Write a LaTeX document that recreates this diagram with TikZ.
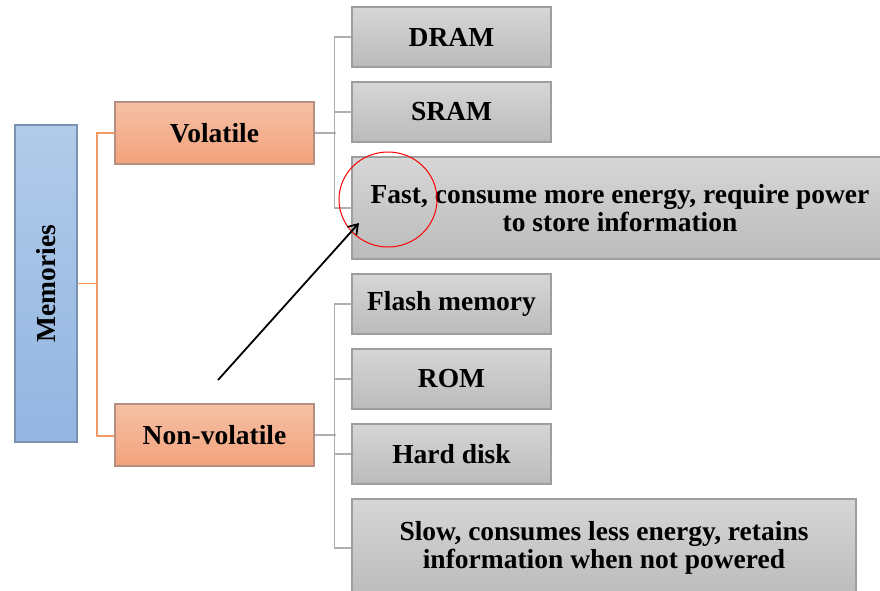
\documentclass[tikz,border=0pt]{standalone}
\usepackage{fontspec}
\setmainfont{Liberation Serif}
\usetikzlibrary{arrows.meta}
\definecolor{memtop}{HTML}{B1CBE9}
\definecolor{membot}{HTML}{93B5E1}
\definecolor{memdraw}{HTML}{7A93B0}
\definecolor{oratop}{HTML}{F5C0A5}
\definecolor{orabot}{HTML}{F3A27C}
\definecolor{oradraw}{HTML}{B39080}
\definecolor{grytop}{HTML}{D6D6D6}
\definecolor{grybot}{HTML}{BBBBBB}
\definecolor{grydraw}{HTML}{9E9E9E}
\definecolor{oline}{HTML}{F29A62}
\definecolor{gline}{HTML}{AEAEAE}
\tikzset{
  lbl/.style={font=\fontsize{27.5}{28}\selectfont\bfseries, align=center, inner sep=0pt, line width=1.3pt},
  membox/.style={lbl, draw=memdraw, top color=memtop, bottom color=membot, rotate=90, minimum width=317pt, minimum height=62pt},
  orabox/.style={lbl, draw=oradraw, top color=oratop, bottom color=orabot, minimum width=199pt, minimum height=62pt},
  grybox/.style={lbl, draw=grydraw, top color=grytop, bottom color=grybot, minimum width=199pt, minimum height=60pt},
  oconn/.style={draw=oline, line width=1.6pt},
  gconn/.style={draw=gline, line width=1.3pt},
}
\begin{document}
\begin{tikzpicture}[x=1pt,y=-1pt]
\useasboundingbox (0,0) rectangle (880,591);
\fill[white] (0,0) rectangle (880,591);
\begin{scope}
\clip (0,0) rectangle (880,591);
% connectors
\draw[oconn] (115,133) -- (97,133) -- (97,436) -- (115,436);
\node[membox] (mem) at (46,283.5) {Memories};
\node[orabox] (vol) at (214.5,133) {Volatile};
\node[orabox] (nvol) at (214.5,435) {Non-volatile};
\node[grybox] (dram) at (451.5,37) {DRAM};
\node[grybox] (sram) at (451.5,112) {SRAM};
\node[grybox, minimum width=536pt, minimum height=102pt] (fast) at (620,208) {Fast, consume more energy, require power\\to store information};
\node[grybox] (flash) at (451.5,304) {Flash memory};
\node[grybox] (rom) at (451.5,379) {ROM};
\node[grybox] (hdd) at (451.5,454) {Hard disk};
\node[grybox, minimum width=504pt, minimum height=98pt] (slow) at (604,548) {Slow, consumes less energy, retains\\information when not powered};
\draw[oconn] (mem.south) -- ++(20,0);
\draw[gconn] (vol.east) -- ++(21,0);
\draw[gconn] (dram.west) -- ++(-17,0) |- (fast.west);
\draw[gconn] (sram.west) -- ++(-17,0);
\draw[gconn] (nvol.east) -- ++(21,0);
\draw[gconn] (flash.west) -- ++(-17,0) |- (slow.west);
\draw[gconn] (rom.west) -- ++(-17,0);
\draw[gconn] (hdd.west) -- ++(-17,0);
% highlight
\draw[red, line width=1pt] (388,199.5) ellipse [x radius=49, y radius=47.5];
\coordinate (astart) at (218,380);
\coordinate (aend) at (359,223);
\draw[line width=1.8pt, -{Straight Barb[length=9pt,width=12pt]}] (astart) -- (aend);
\end{scope}
\end{tikzpicture}
\end{document}
